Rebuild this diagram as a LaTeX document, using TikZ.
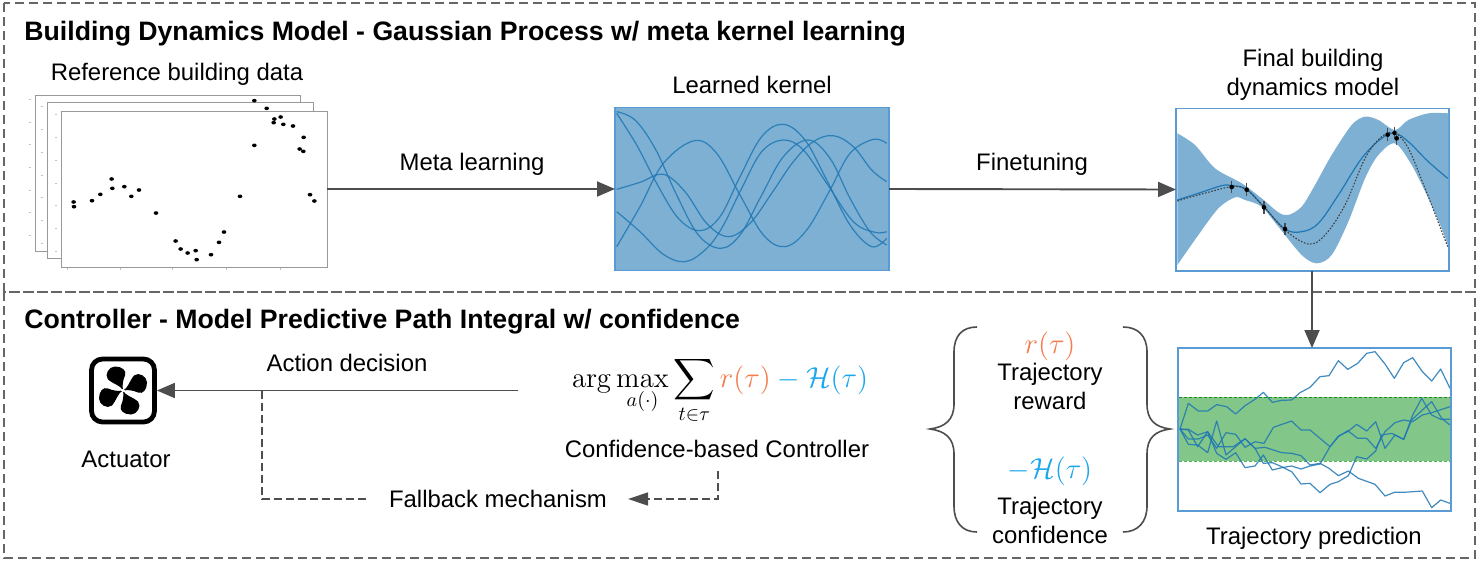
\documentclass[tikz,border=0pt]{standalone}
\usepackage{amsmath}
\usepackage{exscale}
\usepackage[no-math]{fontspec}
\setmainfont{Liberation Sans}
\usetikzlibrary{arrows.meta}
\definecolor{linegray}{HTML}{4D4D4D}
\definecolor{framegray}{HTML}{666666}
\definecolor{panelgray}{HTML}{999999}
\definecolor{boxblue}{HTML}{5B9BD5}
\definecolor{bandblue}{HTML}{7DB0D3}
\definecolor{curveblue}{HTML}{1F77B4}
\definecolor{trajgreen}{HTML}{82C68A}
\definecolor{rewardorange}{HTML}{F47B4B}
\definecolor{confblue}{HTML}{1AA7EC}
\tikzset{
  x=0.5pt,y=-0.5pt,
  lbl/.style={anchor=base,inner sep=0pt,font=\fontsize{11.95pt}{14pt}\selectfont},
  ttl/.style={anchor=base west,inner sep=0pt,font=\fontsize{13.33pt}{16pt}\selectfont\bfseries},
  mth/.style={anchor=base,inner sep=0pt,font=\fontsize{14.4pt}{17pt}\selectfont},
  arrowline/.style={draw=linegray,line width=0.95pt,-{Triangle[length=9pt,width=7.5pt,fill=linegray]}},
  dashline/.style={draw=linegray,line width=0.7pt,dash pattern=on 4pt off 2pt},
  framebox/.style={draw=framegray,line width=0.65pt,dash pattern=on 4.7pt off 2.3pt},
  panel/.style={draw=panelgray,fill=white,line width=0.5pt,inner sep=0pt,outer sep=0pt,anchor=north west},
  imgbox/.style={draw=boxblue,line width=0.8pt,inner sep=0pt,outer sep=0pt,anchor=north west},
  zoomA/.style={shift={(20,80)},x=0.16667pt,y=-0.16667pt},
  zoomB/.style={shift={(600,95)},x=0.16667pt,y=-0.16667pt},
  zoomC/.style={shift={(1165,95)},x=0.16667pt,y=-0.16667pt},
  zoomD/.style={shift={(1165,340)},x=0.16667pt,y=-0.16667pt},
  kcurve/.style={draw=curveblue,opacity=0.85,line width=0.6pt},
  tcurve/.style={draw=curveblue,opacity=0.85,line width=0.6pt,line join=round},
  dot/.style={fill=black,draw=none},
  tick/.style={draw=panelgray!60,line width=0.35pt},
}
\begin{document}
\begin{tikzpicture}
\useasboundingbox (0,0) rectangle (1478,562);
\fill[white] (0,0) rectangle (1478,562);
% section frames
\draw[framebox] (4,3) rectangle (1475,292);
\draw[framebox] (4,292) rectangle (1475,558);
% titles
\node[ttl] (title1) at (24,40) {Building Dynamics Model - Gaussian Process w/ meta kernel learning};
\node[ttl] (title2) at (24,328) {Controller - Model Predictive Path Integral w/ confidence};
% reference data panels
\node[panel,minimum width=132.5pt,minimum height=78pt] (back) at (35,95) {};
\node[panel,minimum width=133pt,minimum height=78pt] (mid) at (47,102) {};
\node[panel,minimum width=133pt,minimum height=78pt] (refdata) at (61,111) {};
\begin{scope}[zoomA]
  \foreach \y in {58,127,194,263,330,398,466} \draw[tick] (26,\y) -- (32,\y);
  \foreach \y in {80,148,217,285,352,421,490} \draw[tick] (64,\y) -- (70,\y);
  \foreach \y in {104,172,241,310,376,445,514} \draw[tick] (105,\y) -- (111,\y);
  \foreach \x in {141,302,458,619,780} \draw[tick] (\x,563) -- (\x,569);
  \foreach \p in {(703,62),(740,85),(161,366),(162,380),(216,362),(241,343),(275,297),(277,325),(313,320),(334,349),(357,330),(408,399),(467,483),(482,507),(503,519),(527,512),(530,539),(573,524),(597,487),(612,456),(660,349),(703,196),(761,128),(763,117),(782,111),(790,133),(819,138),(851,172),(839,207),(850,214),(870,344),(883,363)}
    \fill[dot] \p circle[x radius=7,y radius=5.5];
\end{scope}
\node[lbl] (reflabel) at (177,80) {Reference building data};
% kernel
\node[imgbox,fill=bandblue,minimum width=137pt,minimum height=81.5pt] (kernel) at (615,107.5) {};
\begin{scope}[zoomB]
  \draw[kcurve] plot[smooth,tension=0.6] coordinates {(50,55)(110,150)(170,265)(235,370)(300,407)(360,365)(420,245)(485,125)(550,88)(615,135)(680,255)(750,390)(815,455)(860,430)};
  \draw[kcurve] plot[smooth,tension=0.6] coordinates {(50,50)(105,75)(165,160)(230,300)(295,420)(362,460)(420,420)(480,310)(550,185)(625,135)(690,190)(750,310)(810,410)(860,450)};
  \draw[kcurve] plot[smooth,tension=0.6] coordinates {(50,283)(120,262)(190,238)(255,290)(320,385)(385,425)(450,385)(515,295)(580,200)(640,140)(700,122)(760,155)(815,225)(860,260)};
  \draw[kcurve] plot[smooth,tension=0.6] coordinates {(50,455)(120,335)(190,205)(283,137)(350,175)(420,300)(490,420)(555,455)(620,405)(690,285)(750,175)(820,133)(860,145)};
  \draw[kcurve] plot[smooth,tension=0.6] coordinates {(50,350)(120,410)(190,478)(255,500)(315,465)(365,400)(425,280)(485,170)(550,135)(610,165)(680,265)(760,380)(825,412)(860,410)};
\end{scope}
\node[lbl] (kernellabel) at (752,93) {Learned kernel};
% final model
\node[imgbox,fill=white,minimum width=136.5pt,minimum height=81.2pt] (final) at (1176,108.3) {};
\begin{scope}[zoomC]
  \fill[bandblue] plot[smooth,tension=0.5] coordinates {(37,115)(90,150)(150,220)(230,265)(290,310)(340,352)(370,360)(410,335)(450,270)(500,180)(560,90)(600,65)(640,75)(690,105)(730,75)(790,55)(850,55)}
    -- plot[smooth,tension=0.5] coordinates {(850,455)(830,400)(790,310)(740,210)(690,145)(640,180)(600,250)(550,380)(500,480)(455,505)(410,480)(340,395)(290,335)(240,315)(210,307)(160,340)(100,420)(37,510)} -- cycle;
  \draw[curveblue,line width=0.6pt] plot[smooth,tension=0.6] coordinates {(37,315)(100,295)(170,272)(200,272)(245,283)(297,336)(360,402)(410,410)(460,385)(520,300)(590,190)(650,130)(690,115)(730,140)(790,200)(848,250)};
  \draw[black!75,line width=0.55pt,dash pattern=on 0.8pt off 0.8pt] plot[smooth,tension=0.6] coordinates {(37,318)(100,300)(200,275)(245,285)(297,336)(360,405)(430,447)(480,420)(540,330)(600,190)(650,125)(690,115)(730,160)(780,280)(848,455)};
  \foreach \a/\b in {200/276,245/284,297/337,360/402,668/119,689/114,695/130} {
    \draw[black!70,line width=0.6pt] (\a,\b-19) -- (\a,\b+19);
    \fill[dot] (\a,\b) circle[radius=7];
  }
\end{scope}
\node[lbl] (finalA) at (1313,66) {Final building};
\node[lbl] (finalB) at (1313,95) {dynamics model};
% arrows top
\draw[arrowline] (refdata.east) -- (kernel.west);
\node[lbl] (meta) at (472,170) {Meta learning};
\draw[arrowline] (kernel.east) -- (final.west);
\node[lbl] (fine) at (1032,170) {Finetuning};
% trajectory
\node[imgbox,fill=white,minimum width=136.5pt,minimum height=81.5pt] (traj) at (1178,348) {};
\begin{scope}[zoomD]
  \fill[trajgreen] (42,172) rectangle (856,364);
  \draw[green!50!black,opacity=0.8,line width=0.4pt,dash pattern=on 1.5pt off 1pt] (42,172) -- (856,172);
  \draw[green!60!black,opacity=0.7,line width=0.4pt,dash pattern=on 1.5pt off 1pt] (42,364) -- (856,364);
  \draw[tcurve] (45,267) -- (70,190) -- (100,213) -- (128,213) -- (155,194) -- (185,200) -- (212,222) -- (240,197) -- (270,178) -- (295,157) -- (322,187) -- (350,181) -- (380,180) -- (405,158) -- (435,142) -- (465,110) -- (492,107) -- (520,62) -- (548,88) -- (578,70) -- (605,40) -- (630,35) -- (660,72) -- (688,115) -- (716,68) -- (743,53) -- (772,95) -- (800,123) -- (827,87) -- (855,145);
  \draw[tcurve] (45,267) -- (70,268) -- (98,285) -- (128,275) -- (155,340) -- (183,358) -- (212,338) -- (240,383) -- (270,378) -- (295,345) -- (322,390) -- (350,383) -- (380,378) -- (408,387) -- (435,378) -- (465,372) -- (495,320) -- (520,290) -- (548,272) -- (578,295) -- (605,295) -- (632,325) -- (660,275) -- (690,248) -- (716,240) -- (743,245) -- (772,225) -- (800,218) -- (855,200);
  \draw[tcurve] (45,267) -- (70,297) -- (100,297) -- (128,285) -- (155,325) -- (183,278) -- (212,283) -- (240,322) -- (270,305) -- (297,310) -- (325,262) -- (380,243) -- (408,270) -- (435,270) -- (465,295) -- (495,320) -- (520,288) -- (548,275) -- (575,253) -- (605,273) -- (632,245) -- (660,325) -- (690,285) -- (716,298) -- (743,225) -- (770,175) -- (800,225) -- (827,238) -- (855,238);
  \draw[tcurve] (45,267) -- (70,270) -- (98,320) -- (128,275) -- (160,320) -- (205,320) -- (240,296) -- (270,325) -- (300,322) -- (350,338) -- (380,340) -- (408,347) -- (435,375) -- (465,370) -- (492,385) -- (520,407) -- (550,393) -- (580,415) -- (630,433) -- (660,468) -- (688,457) -- (716,457) -- (772,453) -- (800,503) -- (827,480) -- (855,490);
  \draw[tcurve] (45,267) -- (70,313) -- (98,315) -- (128,338) -- (155,243) -- (183,345) -- (212,320) -- (240,296) -- (270,325) -- (295,370) -- (322,368) -- (350,380) -- (380,395) -- (408,432) -- (435,430) -- (465,458) -- (495,433) -- (520,425) -- (550,407) -- (575,350) -- (605,357) -- (632,333) -- (650,285) -- (680,280) -- (716,298) -- (740,240) -- (772,210) -- (800,185) -- (830,235) -- (855,255);
\end{scope}
\draw[imgbox] (traj.north west) rectangle (traj.south east);
\node[lbl] (trajlabel) at (1314,544) {Trajectory prediction};
\draw[arrowline] (final.south -| 1312,0) -- (traj.north -| 1312,0);
% actuator
\node[draw=black,line width=2.4pt,rounded corners=5.5pt,minimum width=31.5pt,minimum height=31.5pt,inner sep=0pt,outer sep=1.2pt] (fan) at (123,390.5) {};
\begin{scope}[shift={(fan.center)}]
  \foreach \r in {0,90,180,270}
    \fill[black,rotate=\r] (0,0) .. controls (-2,-5) and (-9,-6) .. (-15,-11) .. controls (-19,-16) and (-14,-24) .. (-8,-24) .. controls (-1,-24) and (4,-20) .. (2,-15) .. controls (0,-10) and (-1,-6) .. (0,0) -- cycle;
  \fill[white] (0,0) circle[radius=1.8];
\end{scope}
\node[lbl] (actlabel) at (126,467) {Actuator};
% controller
\coordinate (ctrl) at (518,390.5);
\coordinate (branch) at (262,390.5);
\coordinate (fbcorner) at (262,499);
\node[lbl] (action) at (347,371) {Action decision};
\draw[arrowline] (ctrl) -- (fan.east);
\node[anchor=base,inner sep=0pt,font=\fontsize{14.7pt}{18pt}\selectfont] (objective) at (720,387)
  {$\displaystyle\arg\max_{a(\cdot)}\sum_{t\in\tau}{\color{rewardorange}r(\tau)}{\color{confblue}{}-\mathcal{H}(\tau)}$};
\node[lbl] (conf) at (717,457) {Confidence-based Controller};
\node[lbl] (fallback) at (498,507) {Fallback mechanism};
\coordinate (fbright) at (718,471);
\coordinate (fbmid) at (718,499);
\coordinate (fbend) at (628,499);
\coordinate (fbstart) at (368,499);
\draw[dashline] (branch) -- (fbcorner) -- (fbstart);
\draw[dashline,-{Triangle[length=10pt,width=6.5pt,fill=linegray]}] (fbright) -- (fbmid) -- (fbend);
% braces
\draw[linegray,line width=0.8pt] (977,327) .. controls (962,327) and (954,336) .. (954,352) -- (954,404) .. controls (954,420) and (945,427) .. (930,429) .. controls (945,431) and (954,438) .. (954,454) -- (954,506) .. controls (954,522) and (962,532) .. (977,532);
\draw[linegray,line width=0.8pt] (1123,327) .. controls (1138,327) and (1147,336) .. (1147,352) -- (1147,404) .. controls (1147,420) and (1155,427) .. (1170,429) .. controls (1155,431) and (1147,438) .. (1147,454) -- (1147,506) .. controls (1147,522) and (1138,532) .. (1123,532);
\node[mth,text=rewardorange] (rlabel) at (1050,353) {$r(\tau)$};
\node[lbl] (tr1) at (1050,380) {Trajectory};
\node[lbl] (tr2) at (1050,409) {reward};
\node[mth,text=confblue] (hlabel) at (1050,478) {$-\mathcal{H}(\tau)$};
\node[lbl] (tc1) at (1050,514) {Trajectory};
\node[lbl] (tc2) at (1050,543) {confidence};
\end{tikzpicture}
\end{document}
